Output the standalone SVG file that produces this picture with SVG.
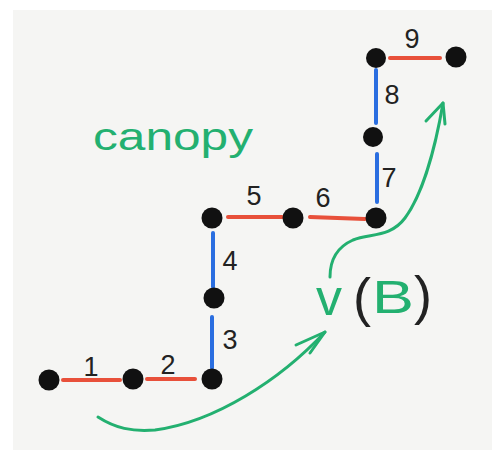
<svg xmlns="http://www.w3.org/2000/svg" width="496" height="453" viewBox="0 0 496 453">
<defs>
<style>
.node{fill:#111}
.red{stroke:#e8503a;stroke-width:4;stroke-linecap:round;fill:none}
.blue{stroke:#2a6ee0;stroke-width:4;stroke-linecap:round;fill:none}
.green{stroke:#23b070;stroke-width:3;stroke-linecap:round;stroke-linejoin:round;fill:none}
.num{font-family:"Liberation Sans","DejaVu Sans",sans-serif;font-size:27px;fill:#222;text-anchor:middle}
.gtxt{font-family:"Liberation Sans","DejaVu Sans",sans-serif;fill:#23b070}
.btxt{font-family:"Liberation Sans","DejaVu Sans",sans-serif;fill:#222}
</style>
</defs>
<rect x="0" y="0" width="496" height="453" fill="#ffffff"/>
<rect x="13" y="10" width="479" height="440" fill="#f5f5f3"/>
<g id="connectors">
<line class="red" x1="63" y1="380" x2="120" y2="380"/>
<line class="red" x1="147" y1="379" x2="195" y2="379"/>
<line class="blue" x1="212" y1="317" x2="212" y2="368"/>
<line class="blue" x1="213" y1="233" x2="213" y2="287"/>
<line class="red" x1="228" y1="217" x2="282" y2="217"/>
<line class="red" x1="310" y1="217" x2="365" y2="219"/>
<line class="blue" x1="377" y1="154" x2="377" y2="202"/>
<line class="blue" x1="376" y1="70" x2="376" y2="123"/>
<line class="red" x1="390" y1="58" x2="440" y2="58"/>
<path class="green" d="M98,417 C115,428 132,432 155,430 C215,422 280,380 325,332"/>
<path class="green" d="M296,345 L325,332 L310,353"/>
<path class="green" d="M330,277 C330,262 335,248 353,240 C370,233 390,238 405,218 C422,195 435,150 443,103"/>
<path class="green" d="M426,121 L443,103 L445,124"/>
</g>
<g id="n1"><circle class="node" cx="49" cy="380" r="10.5"/></g>
<g id="n2"><circle class="node" cx="133" cy="379" r="10.5"/></g>
<g id="n3"><circle class="node" cx="212" cy="379" r="10.5"/></g>
<g id="n4"><circle class="node" cx="214" cy="298" r="10.5"/></g>
<g id="n5"><circle class="node" cx="212" cy="218" r="10.5"/></g>
<g id="n6"><circle class="node" cx="293" cy="218" r="10.5"/></g>
<g id="n7"><circle class="node" cx="376" cy="218" r="10.5"/></g>
<g id="n8"><circle class="node" cx="373" cy="137" r="10"/></g>
<g id="n9"><circle class="node" cx="376" cy="58" r="10"/></g>
<g id="n10"><circle class="node" cx="456" cy="57" r="10.5"/></g>
<g id="labels">
<text class="num" x="91" y="376">1</text>
<text class="num" x="168" y="374">2</text>
<text class="num" x="230" y="349">3</text>
<text class="num" x="230" y="270">4</text>
<text class="num" x="254" y="205">5</text>
<text class="num" x="323" y="207">6</text>
<text class="num" x="389" y="187">7</text>
<text class="num" x="392" y="104">8</text>
<text class="num" x="412" y="48">9</text>
<text class="gtxt" x="93" y="150" font-size="38" textLength="160" lengthAdjust="spacingAndGlyphs">canopy</text>
<text class="gtxt" x="316" y="315" font-size="52">v</text>
<text class="btxt" x="353" y="316" font-size="54">(</text>
<text class="gtxt" x="372" y="313" font-size="46" textLength="42" lengthAdjust="spacingAndGlyphs">B</text>
<text class="btxt" x="414" y="314" font-size="54">)</text>
</g>
</svg>
